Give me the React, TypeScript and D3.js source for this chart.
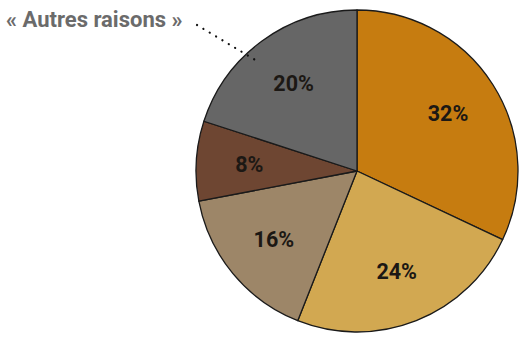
import React from "react";
import * as d3 from "d3";

const categories = ["A", "B", "C", "D", "Autres raisons"];
const values = [32, 24, 16, 8, 20];
const colors = ["#C67C10", "#D2A851", "#9D8668", "#6E4632", "#666666"];
const calloutLabel = "« Autres raisons »";

const W = 526;
const H = 338;

export default function App() {
  const cx = 357;
  const cy = 171;
  const r = 161;
  const pie = d3.pie<number>().value((d) => d).sort(null);
  const arcs = pie(values);
  const arc = d3.arc<d3.PieArcDatum<number>>().innerRadius(0).outerRadius(r);
  const labelArc = d3
    .arc<d3.PieArcDatum<number>>()
    .innerRadius(r * 0.67)
    .outerRadius(r * 0.67);

  // callout line towards the "Autres raisons" slice
  const last = arcs[arcs.length - 1];
  const mid = (last.startAngle + last.endAngle) / 2;
  const endR = r * 0.925;
  const ex = cx + endR * Math.sin(mid - 0.11);
  const ey = cy - endR * Math.cos(mid - 0.11);

  return (
    <svg
      width={W}
      height={H}
      style={{ position: "absolute", left: 0, top: 0, background: "#fff" }}
      fontFamily="Roboto, sans-serif"
    >
      <g transform={`translate(${cx},${cy})`}>
        {arcs.map((a, i) => (
          <path
            key={categories[i]}
            d={arc(a) || ""}
            fill={colors[i]}
            stroke="#1a1a1a"
            strokeWidth={1.3}
            strokeLinejoin="round"
          />
        ))}
        {arcs.map((a, i) => {
          const [x, y] = labelArc.centroid(a);
          return (
            <text
              key={"l" + i}
              x={x}
              y={y}
              textAnchor="middle"
              dominantBaseline="central"
              fontSize={21.5}
              fontWeight={700}
              fill="#1c1814"
            >
              {values[i]}%
            </text>
          );
        })}
      </g>
      <line
        x1={197}
        y1={25}
        x2={ex}
        y2={ey}
        stroke="#111"
        strokeWidth={2.2}
        strokeDasharray="0.1 7.3"
        strokeLinecap="round"
      />
      <text x={6} y={27} fontSize={22} fontWeight={700} fill="#6b6b6b">
        {calloutLabel}
      </text>
    </svg>
  );
}
